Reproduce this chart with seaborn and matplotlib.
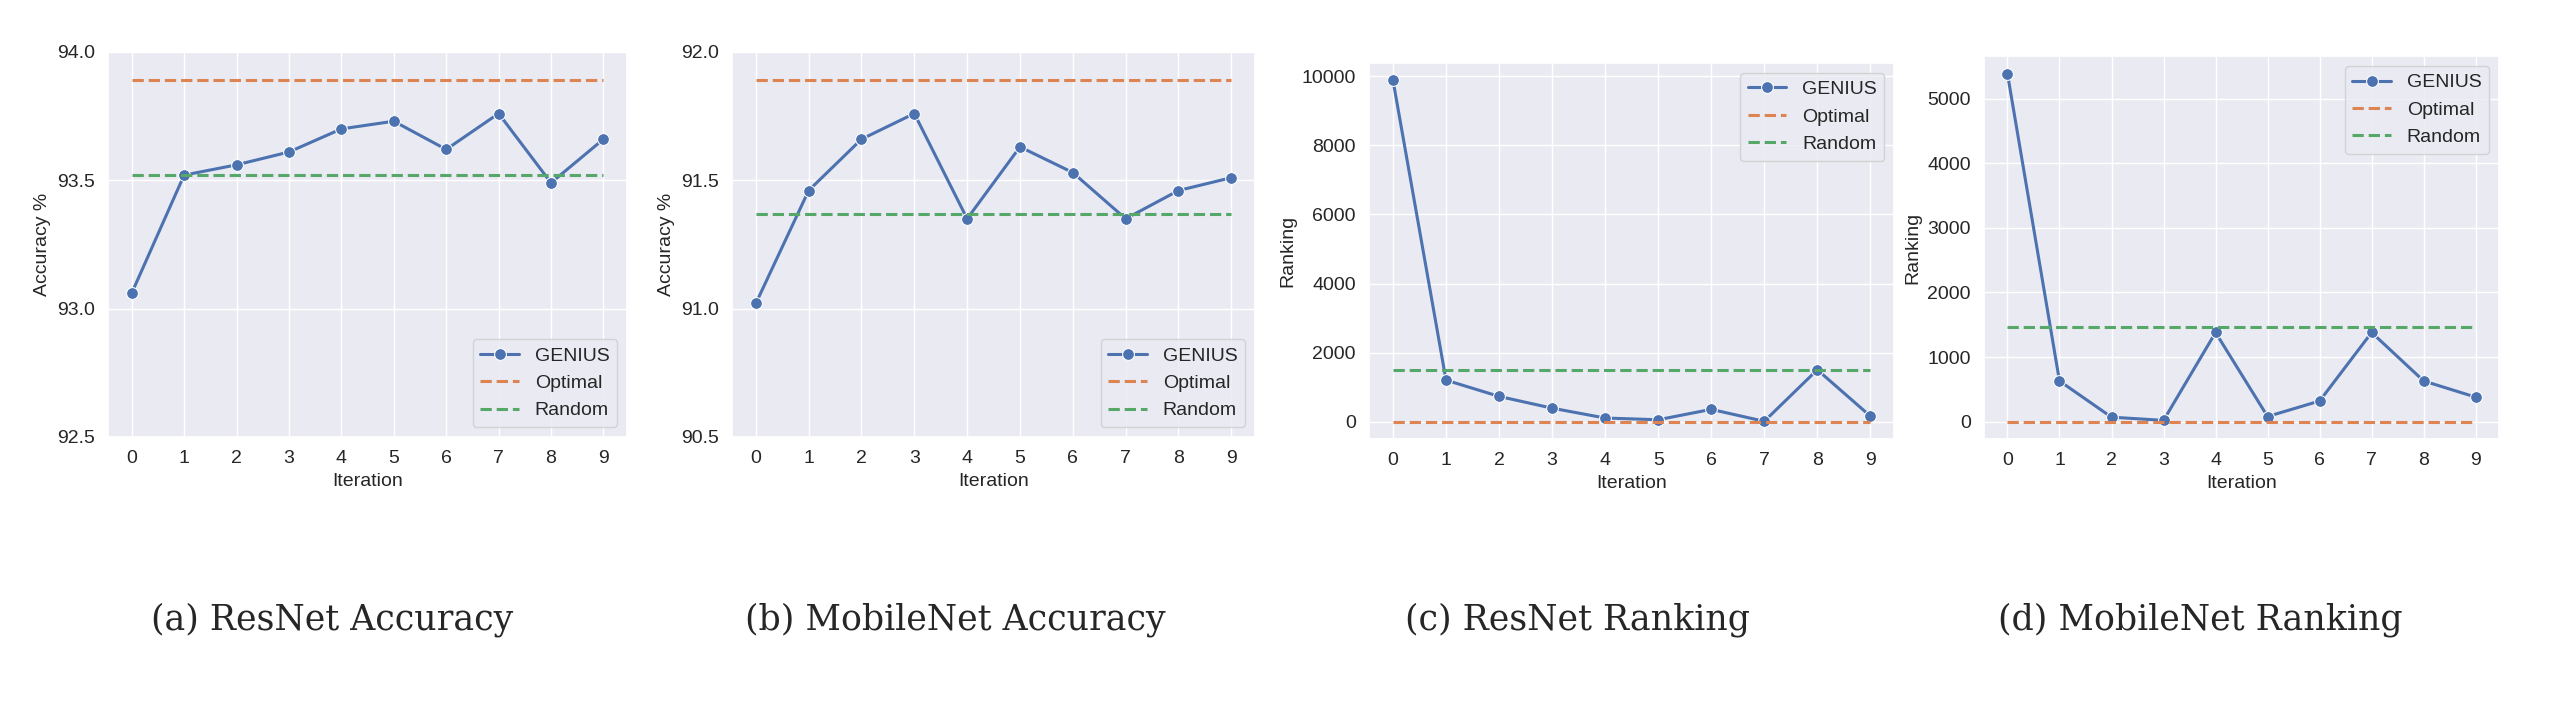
import matplotlib
matplotlib.use("Agg")
import matplotlib.pyplot as plt
import seaborn as sns
import pandas as pd

# data
iteration = [0, 1, 2, 3, 4, 5, 6, 7, 8, 9]

resnet_acc = [93.06, 93.52, 93.56, 93.61, 93.70, 93.73, 93.62, 93.76, 93.49, 93.66]
resnet_acc_optimal = 93.89
resnet_acc_random = 93.52

mobilenet_acc = [91.02, 91.46, 91.66, 91.76, 91.35, 91.63, 91.53, 91.35, 91.46, 91.51]
mobilenet_acc_optimal = 91.89
mobilenet_acc_random = 91.37

resnet_rank = [9880, 1210, 740, 400, 115, 65, 365, 20, 1510, 170]
resnet_rank_optimal = 0
resnet_rank_random = 1500

mobilenet_rank = [5385, 630, 70, 20, 1380, 80, 320, 1380, 630, 380]
mobilenet_rank_optimal = 0
mobilenet_rank_random = 1460

captions = ["(a) ResNet Accuracy", "(b) MobileNet Accuracy",
            "(c) ResNet Ranking", "(d) MobileNet Ranking"]

sns.set_theme(style="darkgrid")
plt.rcParams['font.family'] = ['Liberation Sans', 'DejaVu Sans']

fig = plt.figure(figsize=(25.74, 7.21), dpi=100)
fig.set_facecolor('white')

boxes = [
    [0.042, 0.394, 0.2016, 0.534],
    [0.2844, 0.394, 0.2032, 0.534],
    [0.5319, 0.391, 0.2040, 0.5215],
    [0.7708, 0.391, 0.2001, 0.531],
]
caption_x = [0.129, 0.371, 0.613, 0.855]

panels = [
    (resnet_acc, resnet_acc_optimal, resnet_acc_random, "Accuracy %", "lower right", (92.5, 94.0)),
    (mobilenet_acc, mobilenet_acc_optimal, mobilenet_acc_random, "Accuracy %", "lower right", (90.5, 92.0)),
    (resnet_rank, resnet_rank_optimal, resnet_rank_random, "Ranking", "upper right", None),
    (mobilenet_rank, mobilenet_rank_optimal, mobilenet_rank_random, "Ranking", "upper right", None),
]

pal = sns.color_palette("deep")

for i, (vals, opt, rnd, ylab, loc, lims) in enumerate(panels):
    ax = fig.add_axes(boxes[i])
    df = pd.DataFrame({"Iteration": iteration, "GENIUS": vals,
                       "Optimal": [opt] * len(iteration),
                       "Random": [rnd] * len(iteration)})
    sns.lineplot(data=df, x="Iteration", y="GENIUS", ax=ax, color=pal[0],
                 marker="o", markersize=8.5, linewidth=2.2, label="GENIUS")
    sns.lineplot(data=df, x="Iteration", y="Optimal", ax=ax, color=pal[1],
                 linestyle="--", linewidth=2.2, label="Optimal")
    sns.lineplot(data=df, x="Iteration", y="Random", ax=ax, color=pal[2],
                 linestyle="--", linewidth=2.2, label="Random")
    ax.set_xticks(iteration)
    if lims is not None:
        ax.set_ylim(*lims)
        ax.set_yticks([lims[0], lims[0] + 0.5, lims[0] + 1.0, lims[1]])
    ax.set_xlabel("Iteration", fontsize=14)
    ax.set_ylabel(ylab, fontsize=14)
    ax.tick_params(labelsize=14)
    ax.legend(loc=loc, fontsize=14)
    fig.text(caption_x[i], 0.14, captions[i], ha="center", va="center",
             fontsize=25, family="DejaVu Serif")

fig.savefig("out.png", dpi=100, facecolor="white")
